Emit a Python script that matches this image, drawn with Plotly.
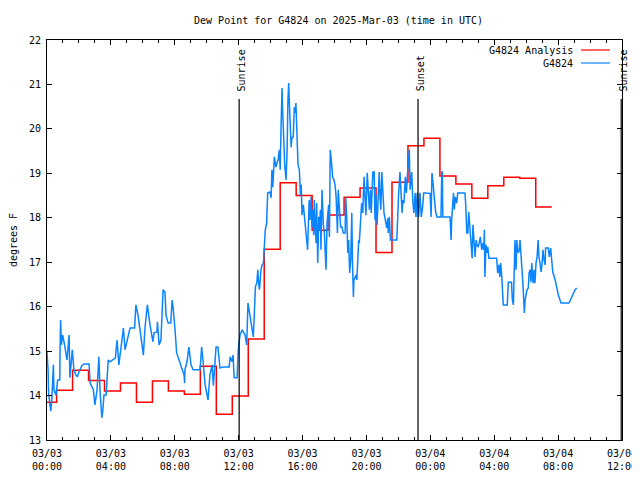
import pandas as pd
import plotly.graph_objects as go

START = pd.Timestamp("2025-03-03 00:00")

# Analysis (hourly steps), hours from start and dew point (F)
analysis_hours = [0, 0.6, 1.6, 2.6, 3.6, 4.6, 5.6, 6.6, 7.6, 8.6, 9.6, 10.6, 11.6, 12.6,
                  13.6, 14.6, 15.6, 16.6, 17.6, 18.6, 19.6, 20.6, 21.6, 22.6, 23.6, 24.6,
                  25.6, 26.6, 27.6, 28.6, 29.6, 30.6, 31.6]
analysis_vals = [13.85, 14.12, 14.57, 14.34, 14.10, 14.28, 13.85, 14.33, 14.10, 14.03, 14.66,
                 13.58, 13.99, 15.27, 17.29, 18.79, 18.50, 17.72, 18.06, 18.46, 18.67, 17.22,
                 18.80, 19.62, 19.79, 18.94, 18.76, 18.44, 18.72, 18.91, 18.89, 18.24, 18.24]

# Station observations, minutes from start and dew point (F)
obs_minutes = [0, 4, 6, 14, 18, 24, 26, 34, 40, 48, 49, 51, 54, 59, 66, 75, 83, 86, 95, 101,
               109, 114, 120, 131, 139, 158, 162, 174, 180, 188, 195, 199, 206, 210, 214, 222,
               230, 237, 257, 263, 270, 287, 293, 301, 312, 329, 334, 342, 349, 357, 362, 368,
               377, 387, 398, 402, 413, 415, 421, 428, 432, 436, 443, 447, 455, 465, 470, 474,
               481, 487, 496, 507, 515, 517, 518, 526, 533, 541, 549, 575, 581, 586, 594, 605,
               612, 620, 625, 635, 642, 650, 661, 684, 688, 695, 699, 703, 714, 719, 725, 733,
               744, 750, 755, 775, 779, 783, 788, 792, 795, 798, 804, 808, 813, 820, 825, 829,
               838, 842, 845, 848, 854, 860, 864, 868, 873, 876, 879, 883, 885, 889, 893, 898,
               902, 905, 908, 910, 914, 917, 920, 925, 929, 933, 935, 939, 943, 948, 952, 955,
               958, 963, 967, 970, 976, 979, 983, 985, 988, 992, 996, 998, 1002, 1004, 1008,
               1011, 1013, 1017, 1021, 1023, 1027, 1029, 1033, 1038, 1042, 1046, 1048, 1052,
               1055, 1058, 1061, 1064, 1068, 1073, 1078, 1082, 1086, 1091, 1094, 1098, 1103,
               1108, 1113, 1120, 1122, 1126, 1130, 1133, 1137, 1141, 1145, 1148, 1151, 1153,
               1157, 1161, 1164, 1167, 1171, 1173, 1179, 1182, 1186, 1191, 1195, 1198, 1203,
               1207, 1211, 1215, 1218, 1224, 1229, 1232, 1236, 1240, 1245, 1248, 1251, 1254,
               1258, 1261, 1266, 1271, 1276, 1280, 1282, 1286, 1290, 1314, 1318, 1321, 1326,
               1330, 1334, 1337, 1341, 1346, 1350, 1354, 1357, 1361, 1364, 1368, 1370, 1374,
               1378, 1383, 1386, 1391, 1396, 1401, 1406, 1411, 1415, 1420, 1439, 1443, 1446,
               1450, 1455, 1460, 1465, 1480, 1483, 1485, 1487, 1514, 1518, 1520, 1527, 1530,
               1534, 1539, 1543, 1570, 1573, 1577, 1581, 1584, 1588, 1593, 1597, 1600, 1604,
               1608, 1612, 1615, 1620, 1624, 1628, 1633, 1637, 1641, 1643, 1645, 1649, 1653,
               1656, 1660, 1689, 1693, 1697, 1701, 1704, 1708, 1710, 1714, 1729, 1733, 1745,
               1748, 1752, 1756, 1758, 1762, 1765, 1768, 1773, 1777, 1781, 1786, 1789, 1793,
               1796, 1799, 1803, 1808, 1811, 1815, 1818, 1821, 1826, 1830, 1833, 1837, 1841,
               1845, 1848, 1852, 1856, 1860, 1863, 1867, 1871, 1873, 1883, 1887, 1892, 1896,
               1900, 1909, 1915, 1921, 1927, 1931, 1961, 1971, 1984, 1990]
obs_vals = [14.98, 14.58, 14.06, 13.65, 13.90, 14.69, 14.13, 14.01, 14.35, 14.35, 15.03, 15.70,
            15.14, 15.36, 15.14, 14.80, 15.36, 14.40, 15.03, 14.58, 14.46, 14.42, 14.53, 14.67,
            14.71, 14.71, 14.28, 14.13, 13.79, 14.13, 14.87, 14.13, 13.50, 13.68, 14.01, 14.01,
            14.80, 14.76, 14.85, 15.25, 14.69, 15.52, 15.03, 15.25, 15.52, 15.52, 16.04, 15.81,
            15.48, 15.03, 14.91, 15.52, 16.04, 15.59, 15.21, 15.41, 15.43, 15.66, 15.14, 15.25,
            15.93, 16.38, 16.33, 15.81, 15.63, 15.63, 16.15, 15.97, 15.48, 14.96, 14.80, 14.62,
            14.46, 14.28, 14.58, 14.76, 15.09, 14.69, 14.58, 14.58, 15.09, 14.80, 14.24, 13.90,
            14.46, 14.69, 14.22, 15.09, 15.09, 14.62, 14.64, 14.64, 14.87, 14.76, 14.91, 14.40,
            14.40, 15.07, 15.36, 15.48, 15.36, 15.14, 16.08, 15.32, 15.93, 16.45, 16.53, 16.83,
            16.53, 16.38, 16.83, 16.94, 16.98, 17.73, 17.88, 18.56, 18.58, 18.45, 19.08, 18.69,
            19.37, 19.14, 19.23, 19.30, 19.53, 19.08, 19.98, 20.92, 20.43, 19.53, 19.19, 18.85,
            19.53, 20.65, 21.03, 20.65, 19.75, 19.59, 19.80, 19.82, 20.49, 20.36, 20.58, 19.53,
            19.19, 19.08, 18.51, 18.74, 18.06, 18.29, 18.06, 17.84, 17.61, 17.28, 18.06, 18.40,
            17.95, 18.47, 17.79, 18.18, 17.61, 18.40, 17.73, 17.43, 18.33, 16.98, 18.02, 17.73,
            18.18, 17.28, 18.63, 17.84, 17.66, 17.28, 16.83, 17.88, 18.11, 18.29, 17.57, 19.53,
            19.30, 18.92, 18.85, 18.74, 18.47, 17.66, 18.63, 18.24, 17.79, 17.79, 17.66, 17.66,
            18.47, 18.02, 17.21, 17.50, 16.76, 17.05, 18.11, 16.89, 16.22, 16.60, 16.67, 16.71,
            16.60, 17.05, 17.50, 17.43, 18.02, 18.33, 18.11, 18.92, 18.40, 18.06, 19.01, 18.63,
            18.18, 18.63, 18.11, 19.03, 19.03, 17.95, 18.51, 17.84, 18.85, 19.03, 18.47, 18.18,
            19.03, 18.56, 18.11, 17.95, 17.77, 17.99, 17.66, 18.02, 17.50, 17.50, 18.24, 18.56,
            19.03, 18.56, 18.11, 18.40, 18.33, 18.92, 18.56, 18.97, 19.37, 19.53, 18.63, 18.97,
            19.03, 18.40, 18.11, 18.56, 18.02, 18.56, 18.02, 18.56, 18.02, 18.24, 18.56, 18.56,
            18.55, 18.02, 19.01, 18.78, 18.33, 18.13, 18.02, 18.02, 19.03, 19.03, 18.02, 18.02,
            17.50, 17.95, 18.56, 18.18, 18.47, 18.33, 18.56, 18.56, 18.29, 17.66, 17.66, 18.13,
            17.84, 17.28, 17.09, 17.84, 17.50, 17.12, 17.50, 17.39, 17.34, 17.50, 17.57, 17.28,
            17.43, 17.28, 17.73, 16.67, 17.39, 17.21, 17.34, 17.09, 17.09, 16.76, 16.94, 16.67,
            16.98, 16.71, 16.31, 16.04, 16.04, 16.55, 16.55, 16.15, 16.04, 16.76, 17.50, 16.83,
            17.50, 17.23, 17.23, 17.50, 17.21, 16.67, 16.38, 15.86, 16.15, 16.26, 16.38, 16.42,
            16.76, 16.83, 16.55, 16.98, 16.53, 16.83, 16.53, 16.98, 17.12, 17.50, 17.12, 16.98,
            16.78, 16.98, 17.28, 17.05, 16.94, 17.32, 17.32, 17.12, 17.32, 17.05, 16.78, 16.60,
            16.42, 16.26, 16.15, 16.08, 16.08, 16.22, 16.38, 16.42]

# Sun events (hours from start)
sun_labels = ["Sunrise", "Sunset", "Sunrise"]
sun_hours = [12.03, 23.23, 35.95]

FONT = "DejaVu Sans Mono"

obs_t = [START + pd.Timedelta(minutes=m) for m in obs_minutes]
ana_t = [START + pd.Timedelta(hours=h) for h in analysis_hours]
sun_t = [START + pd.Timedelta(hours=h) for h in sun_hours]

fig = go.Figure()
fig.add_trace(go.Scatter(x=ana_t, y=analysis_vals, mode="lines", name="G4824 Analysis",
                         line=dict(color="#ff0000", width=1.5, shape="hv")))
fig.add_trace(go.Scatter(x=obs_t, y=obs_vals, mode="lines", name="G4824",
                         line=dict(color="#0a84ff", width=1.5)))

for lab, t in zip(sun_labels, sun_t):
    fig.add_shape(type="line", xref="x", yref="y", x0=t, x1=t, y0=13, y1=20.67,
                  line=dict(color="black", width=1.2))
    fig.add_annotation(x=t, y=20.8, xref="x", yref="y", text=lab, textangle=-90,
                       showarrow=False, yanchor="bottom", xanchor="center", xshift=2,
                       font=dict(family=FONT, size=10, color="black"))

# custom legend (text on left, line sample on right)
legend_names = ["G4824 Analysis", "G4824"]
legend_colors = ["#ff0000", "#0a84ff"]
for i, (nm, col) in enumerate(zip(legend_names, legend_colors)):
    ypx = 50 + i * 13
    yp = 1 - (ypx - 40) / 400
    fig.add_annotation(x=(575 - 47) / 575, y=yp, xref="paper", yref="paper", text=nm,
                       showarrow=False, xanchor="right", yanchor="middle",
                       font=dict(family=FONT, size=10, color="black"))
    fig.add_shape(type="line", xref="paper", yref="paper",
                  x0=(581 - 47) / 575, x1=(610 - 47) / 575, y0=yp, y1=yp,
                  line=dict(color=col, width=1.2))

# page body adds an 8px margin, so the figure is 632x472 placed at (8, 8)
fig.update_layout(
    width=632, height=472,
    margin=dict(l=39, r=18, t=32, b=40, autoexpand=False),
    paper_bgcolor="white", plot_bgcolor="white",
    showlegend=False,
    title=dict(text="Dew Point for G4824 on 2025-Mar-03 (time in UTC)", x=0.523, xanchor="center",
               y=1 - 12 / 472, yanchor="middle", automargin=False,
               font=dict(family=FONT, size=10, color="black")),
    font=dict(family=FONT, size=10, color="black"),
)
fig.update_xaxes(
    type="date", range=[START, START + pd.Timedelta(hours=36)], automargin=False,
    dtick=4 * 3600 * 1000, tick0=START, tickformat="%m/%d<br>%H:%M",
    ticks="inside", ticklen=5, tickcolor="black", showline=True, linecolor="black",
    linewidth=1, mirror="ticks", showgrid=False, zeroline=False, ticklabelstandoff=4,
    minor=dict(dtick=3600 * 1000, ticks="inside", ticklen=3, tickcolor="black", showgrid=False),
    tickfont=dict(family=FONT, size=10),
)
fig.update_yaxes(
    range=[13, 22], dtick=1, ticks="inside", ticklen=5, tickcolor="black", automargin=False,
    showline=True, linecolor="black", linewidth=1, mirror="ticks", showgrid=False,
    zeroline=False, ticklabelstandoff=3,
    title=dict(text="degrees F", font=dict(family=FONT, size=10), standoff=14),
    tickfont=dict(family=FONT, size=10),
)

fig.write_html("out.html")
